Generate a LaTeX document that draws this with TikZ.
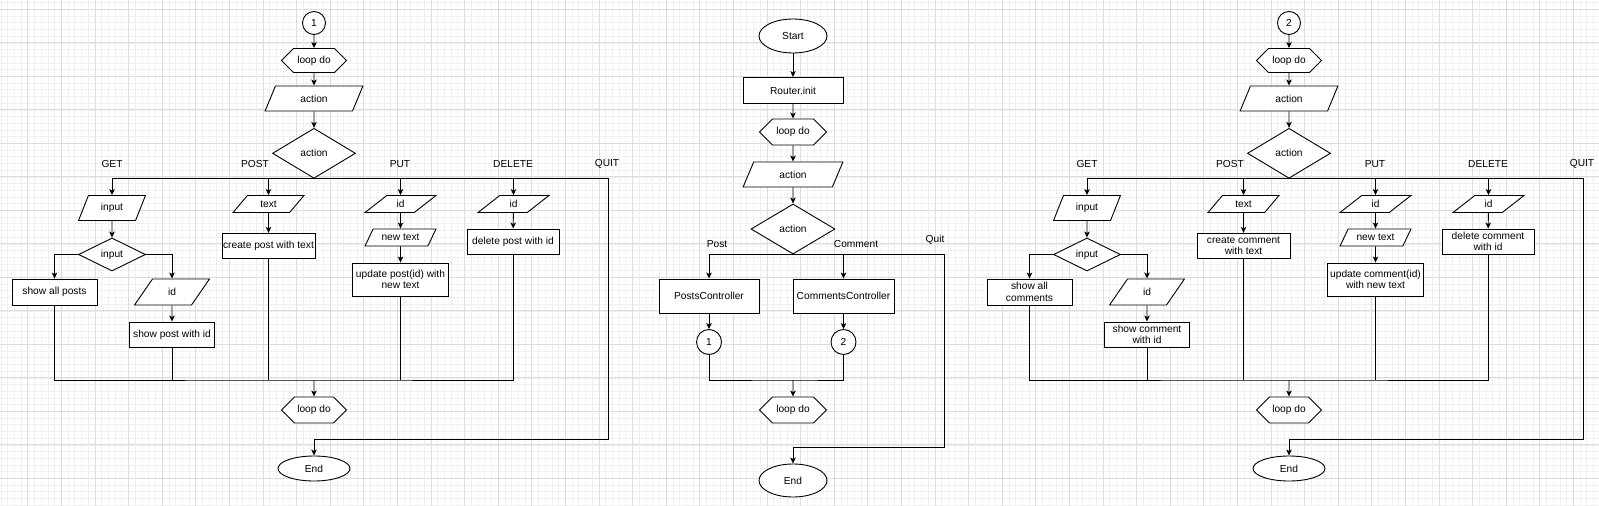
\documentclass[tikz,border=0pt]{standalone}
\usepackage{fontspec}
\setmainfont{Liberation Sans}
\usetikzlibrary{shapes.geometric,shapes.symbols,arrows.meta}
\definecolor{gridmajor}{HTML}{DCDCDC}
\definecolor{gridminor}{HTML}{F0F0F0}

\begin{document}
\begin{tikzpicture}[x=1pt, y=-1pt, line width=0.9pt,
    >={Stealth[length=6pt,width=5.5pt,inset=1.5pt]},
    every node/.style={font=\fontsize{10.2}{11.7}\selectfont, inner sep=0pt},
    box/.style 2 args={draw, fill=white, rectangle, align=center, minimum width=#1, minimum height=#2},
    term/.style 2 args={draw, fill=white, ellipse, minimum width=#1, minimum height=#2},
    hexa/.style 2 args={draw, fill=white, signal, signal to=east and west, minimum width=#1, minimum height=#2},
    iobig/.style 2 args={draw, fill=white, trapezium, trapezium stretches=true, trapezium left angle=64, trapezium right angle=116, minimum width=#1, minimum height=#2},
    iosmall/.style 2 args={draw, fill=white, trapezium, trapezium stretches=true, trapezium left angle=50, trapezium right angle=130, minimum width=#1, minimum height=#2},
    decide/.style 2 args={draw, fill=white, diamond, minimum width=#1, minimum height=#2},
    conn/.style={draw, fill=white, circle, minimum size=#1}]
    % page and grid
    \fill[white] (0,0) rectangle (1599,506);
    \useasboundingbox (0,0) rectangle (1599,506);
    \foreach \i in {0,...,237} \draw[gridminor, line width=0.6pt] ({0.82+6.72*\i},0) -- ++(0,506);
    \foreach \i in {0,...,75} \draw[gridminor, line width=0.6pt] (0,{2.6+6.7*\i}) -- ++(1599,0);
    \foreach \i in {0,...,47} \draw[gridmajor, line width=0.8pt] ({27.7+33.6*\i},0) -- ++(0,506);
    \foreach \i in {0,...,14} \draw[gridmajor, line width=0.8pt] (0,{9.3+33.5*\i}) -- ++(1599,0);

    % router
    \node[term={68}{34}] (start) at (793,36) {Start};
    \node[box={100}{26}] (router) at (793,90.5) {Router.init};
    \node[hexa={67}{26}] (loop) at (793,132) {loop do};
    \node[iobig={100}{25}] (action) at (793,174.5) {action};
    \node[decide={84}{50}] (choice) at (793,229) {action};
    \node (lpost) at (717,244) {Post};
    \node (lcomment) at (856,244) {Comment};
    \node (lquit) at (935,240) {Quit};
    \node[box={100}{34}] (posts) at (709,296) {PostsController};
    \node[box={101}{34}] (comments) at (843.5,296) {CommentsController};
    \node[conn=25] (to1) at (709,342) {1};
    \node[conn=25] (to2) at (843.5,342) {2};
    \node[hexa={67}{26}] (again) at (793,410) {loop do};
    \node[term={68}{33}] (end) at (793,480.5) {End};
    \coordinate (join) at (793,380);
    \coordinate (quitback) at (944,447);
    \draw[->] (start) -- (router);
    \draw[->] (router) -- (loop);
    \draw[->] (loop) -- (action);
    \draw[->] (action) -- (choice);
    \draw[->] (choice.south) -| (posts.north);
    \draw[->] (choice.south) -| (comments.north);
    \draw[->] (choice.south) -| (quitback) -| (end.north);
    \draw[->] (posts) -- (to1);
    \draw[->] (comments) -- (to2);
    \draw (to1.south) |- (join) -| (to2.south);
    \draw[->] (join) -- (again);

    % posts and comments
    \foreach \sx/\n/\all/\one/\cre/\upd/\del in {
        0/1/{show all posts}/{show post with id}/{create post with text}/{update post(id) with\\new text}/{delete post with id},
        975/2/{show all\\comments}/{show comment\\with id}/{create comment\\with text}/{update comment(id)\\with new text}/{delete comment\\with id}}{
    \begin{scope}[xshift=\sx]
    \node[conn=23] (c\n) at (314,23) {\n};
    \node[hexa={65}{24}] (c\n-loop) at (314,60.5) {loop do};
    \node[iobig={98}{25}] (c\n-act) at (314,98.5) {action};
    \node[decide={83}{50}] (c\n-dec) at (314,153.3) {action};
    \node (c\n-get) at (112,164) {GET};
    \node (c\n-post) at (255,164) {POST};
    \node (c\n-put) at (400,164) {PUT};
    \node (c\n-delete) at (513,164) {DELETE};
    \node (c\n-quit) at (607,164) {QUIT};
    \node[iobig={67}{25}] (c\n-in) at (112,208) {input};
    \node[decide={67}{33}] (c\n-ask) at (112,254.5) {input};
    \node[box={85}{26}] (c\n-all) at (54.5,292) {\all};
    \node[iobig={75}{26}] (c\n-id) at (172,292) {id};
    \node[box={85}{25}] (c\n-one) at (172,334.5) {\one};
    \node[iosmall={71}{17}] (c\n-text) at (268.5,204) {text};
    \node[box={93}{25}] (c\n-new) at (268.5,245.8) {\cre};
    \node[iosmall={71}{17}] (c\n-pid) at (400.5,204) {id};
    \node[iosmall={71}{17}] (c\n-ptext) at (400.5,237.5) {new text};
    \node[box={96}{33}] (c\n-upd) at (400.5,279.5) {\upd};
    \node[iosmall={71}{17}] (c\n-did) at (513.5,204) {id};
    \node[box={92}{25}] (c\n-del) at (513,241.5) {\del};
    \node[hexa={65}{26}] (c\n-again) at (314,410) {loop do};
    \node[term={72}{25}] (c\n-end) at (314,468.5) {End};
    \coordinate (c\n-join) at (314,380);
    \coordinate (c\n-back) at (608,439);
    \draw[->] (c\n) -- (c\n-loop);
    \draw[->] (c\n-loop) -- (c\n-act);
    \draw[->] (c\n-act) -- (c\n-dec);
    \foreach \t in {in,text,pid,did}
        \draw[->] (c\n-dec.south) -| (c\n-\t.north);
    \draw[->] (c\n-dec.south) -| (c\n-back) -| (c\n-end.north);
    \draw[->] (c\n-in) -- (c\n-ask);
    \draw[->] (c\n-ask.west) -| (c\n-all.north);
    \draw[->] (c\n-ask.east) -| (c\n-id.north);
    \draw[->] (c\n-id) -- (c\n-one);
    \draw[->] (c\n-text) -- (c\n-new);
    \draw[->] (c\n-pid) -- (c\n-ptext);
    \draw[->] (c\n-ptext) -- (c\n-upd);
    \draw[->] (c\n-did) -- (c\n-del);
    \draw (c\n-all.south) |- (c\n-join) -| (c\n-del.south);
    \foreach \t in {one,new,upd}
        \draw (c\n-\t.south) -- (c\n-\t.south |- c\n-join);
    \draw[->] (c\n-join) -- (c\n-again);
    \end{scope}}
\end{tikzpicture}
\end{document}
